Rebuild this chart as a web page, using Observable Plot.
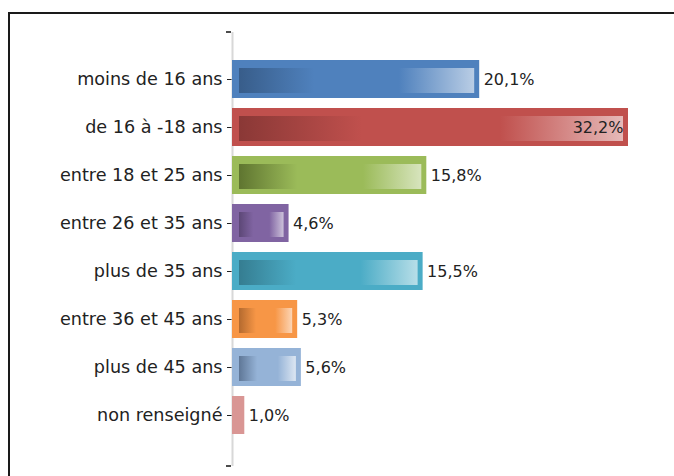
<!DOCTYPE html>
<html><head><meta charset="utf-8">
<script src="https://cdn.jsdelivr.net/npm/d3@7"></script>
<script src="https://cdn.jsdelivr.net/npm/@observablehq/plot@0.6"></script>
<style>
html,body{margin:0;padding:0;background:#fff;overflow:hidden}
#wrap{position:relative;width:674px;height:476px}
#frame{position:absolute;left:8px;top:12px;width:700px;height:500px;border:2px solid #1a1a1a;box-sizing:border-box}
#chart{position:absolute;left:0;top:0}
</style></head><body>
<div id="wrap"><div id="frame"></div><div id="chart"></div></div>
<script>
const categories = ["moins de 16 ans","de 16 à -18 ans","entre 18 et 25 ans","entre 26 et 35 ans","plus de 35 ans","entre 36 et 45 ans","plus de 45 ans","non renseigné"];
const values = [20.1, 32.2, 15.8, 4.6, 15.5, 5.3, 5.6, 1.0];
const valueLabels = ["20,1%","32,2%","15,8%","4,6%","15,5%","5,3%","5,6%","1,0%"];
const mainColors = ["#4f81bd","#c0504d","#9bbb59","#8064a2","#4bacc6","#f79646","#95b3d7","#d99694"];
const darkColors = ["#385d8a","#8a3836","#5f7530","#5c4776","#357d91","#b46a2f","#5f7797","#a86e6c"];
const lightColors = ["#b9cde5","#e6b9b8","#d7e4bd","#ccc1da","#b7dee8","#fcd5b5","#dce6f2","#f2dcdb"];

const data = categories.map((c, i) => ({cat: c, value: values[i], label: valueLabels[i], i}));
const xMax = d3.max(values);

const plot = Plot.plot({
  width: 674, height: 476,
  marginLeft: 232, marginRight: 46, marginTop: 32, marginBottom: 10,
  style: {fontFamily: "DejaVu Sans", fontSize: "17.6px", color: "#222", background: "transparent"},
  x: {domain: [0, xMax], axis: null},
  y: {domain: categories, paddingInner: 0.2, paddingOuter: 0.58, align: 0.47, label: null, tickSize: 5, tickPadding: 5},
  color: {type: "identity"},
  marks: [
    Plot.ruleX([0], {stroke: "#d8d8d8", strokeWidth: 2}),
    Plot.barX(data, {y: "cat", x: "value", fill: d => mainColors[d.i]}),
    Plot.barX(data.filter(d => d.value > 2), {y: "cat", x: "value", fill: d => `url(#g${d.i})`, insetLeft: 7, insetRight: 5, insetTop: 8, insetBottom: 5}),
    Plot.text(data.filter(d => d.value < xMax), {y: "cat", x: "value", text: "label", textAnchor: "start", dx: 4, fontSize: 16, fill: "#222"}),
    Plot.text(data.filter(d => d.value === xMax), {y: "cat", x: "value", text: "label", textAnchor: "end", dx: -5, fontSize: 16, fill: "#222"})
  ]
});

const svg = d3.select(plot);
const defs = svg.insert("defs", ":first-child");
data.forEach(d => {
  const g = defs.append("linearGradient").attr("id", `g${d.i}`).attr("x1", "0").attr("x2", "1").attr("y1", "0").attr("y2", "0");
  g.append("stop").attr("offset", "0").attr("stop-color", darkColors[d.i]);
  g.append("stop").attr("offset", "0.32").attr("stop-color", mainColors[d.i]);
  g.append("stop").attr("offset", "0.68").attr("stop-color", mainColors[d.i]);
  g.append("stop").attr("offset", "1").attr("stop-color", lightColors[d.i]);
});
// axis end ticks
const xs = plot.scale("x");
const x0 = xs.range[0];
[32, 466].forEach(yy => {
  svg.append("line").attr("x1", x0 - 6).attr("x2", x0 - 1).attr("y1", yy).attr("y2", yy).attr("stroke", "#111").attr("stroke-width", 1.5);
});
document.getElementById("chart").appendChild(plot);
</script>
</body></html>
